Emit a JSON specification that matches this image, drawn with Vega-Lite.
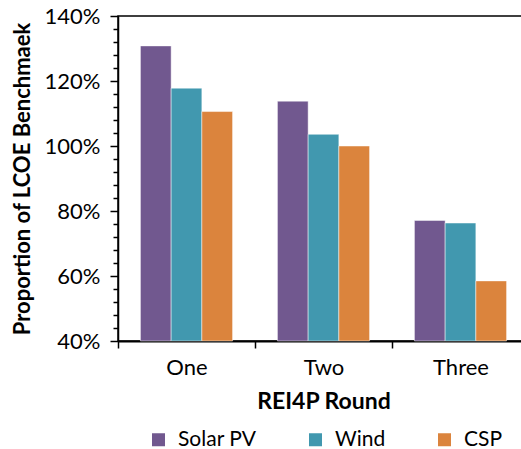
{
  "$schema": "https://vega.github.io/schema/vega-lite/v6.json",
  "autosize": {"type": "none"},
  "padding": {"left": 118, "top": 16, "right": 0, "bottom": 108},
  "width": 411,
  "height": 325,
  "background": "white",
  "config": {
    "font": "Lato",
    "view": {"stroke": "black", "strokeWidth": 1.5},
    "axis": {"domainColor": "black", "tickColor": "black", "labelColor": "black", "titleColor": "black", "grid": false}
  },
  "data": {
    "values": [
      {"round": "One", "tech": "Solar PV", "value": 1.308},
      {"round": "One", "tech": "Wind", "value": 1.178},
      {"round": "One", "tech": "CSP", "value": 1.106},
      {"round": "Two", "tech": "Solar PV", "value": 1.138},
      {"round": "Two", "tech": "Wind", "value": 1.036},
      {"round": "Two", "tech": "CSP", "value": 1.0},
      {"round": "Three", "tech": "Solar PV", "value": 0.771},
      {"round": "Three", "tech": "Wind", "value": 0.763},
      {"round": "Three", "tech": "CSP", "value": 0.585}
    ]
  },
  "layer": [
    {
      "mark": {"type": "bar", "stroke": "white", "strokeWidth": 0.8, "strokeOpacity": 0.6},
      "encoding": {
        "x": {
          "field": "round", "type": "nominal", "sort": ["One", "Two", "Three"],
          "scale": {"paddingInner": 0, "paddingOuter": 0},
          "axis": {
            "title": "REI4P Round", "labelAngle": 0, "tickBand": "extent",
            "domainWidth": 2, "tickWidth": 1.5, "tickSize": 7,
            "labelFontSize": 22, "labelBaseline": "alphabetic", "labelPadding": 26,
            "titleFontSize": 23, "titleFontWeight": "bold", "titleBaseline": "alphabetic", "titleY": 67
          }
        },
        "xOffset": {"field": "tech", "type": "nominal", "sort": ["Solar PV", "Wind", "CSP"], "scale": {"paddingInner": 0, "paddingOuter": 0.73}},
        "y": {
          "field": "value", "type": "quantitative",
          "scale": {"domain": [0.4, 1.4], "nice": false, "zero": false},
          "axis": {
            "values": [0.4, 0.6, 0.8, 1.0, 1.2, 1.4], "format": ".0%",
            "title": "Proportion of LCOE Benchmaek", "titleFontSize": 22, "titleFontWeight": "bold",
            "titleBaseline": "alphabetic", "titleX": -89,
            "domainWidth": 1.5, "tickWidth": 1.5, "tickSize": 8,
            "labelFontSize": 22, "labelPadding": 10
          }
        },
        "y2": {"datum": 0.4},
        "color": {
          "field": "tech", "type": "nominal", "sort": ["Solar PV", "Wind", "CSP"],
          "scale": {"domain": ["Solar PV", "Wind", "CSP"], "range": ["#71588F", "#4198AF", "#DB843D"]},
          "legend": {
            "title": null, "orient": "none", "direction": "horizontal", "legendX": 30, "legendY": 413,
            "symbolType": "square", "symbolSize": 169, "symbolStrokeWidth": 0, "labelFontSize": 21,
            "labelOffset": 9, "columnPadding": 48, "padding": 0, "labelColor": "black"
          }
        }
      }
    },
    {
      "mark": {"type": "rule", "opacity": 0},
      "encoding": {
        "y": {
          "field": "value", "type": "quantitative",
          "axis": {
            "orient": "left", "values": [0.44, 0.48, 0.52, 0.56, 0.64, 0.68, 0.72, 0.76, 0.84, 0.88, 0.92, 0.96, 1.04, 1.08, 1.12, 1.16, 1.24, 1.28, 1.32, 1.36],
            "labels": false, "domain": false, "title": null, "tickSize": 5, "tickWidth": 1.5
          }
        }
      }
    }
  ],
  "resolve": {"axis": {"y": "independent"}}
}
